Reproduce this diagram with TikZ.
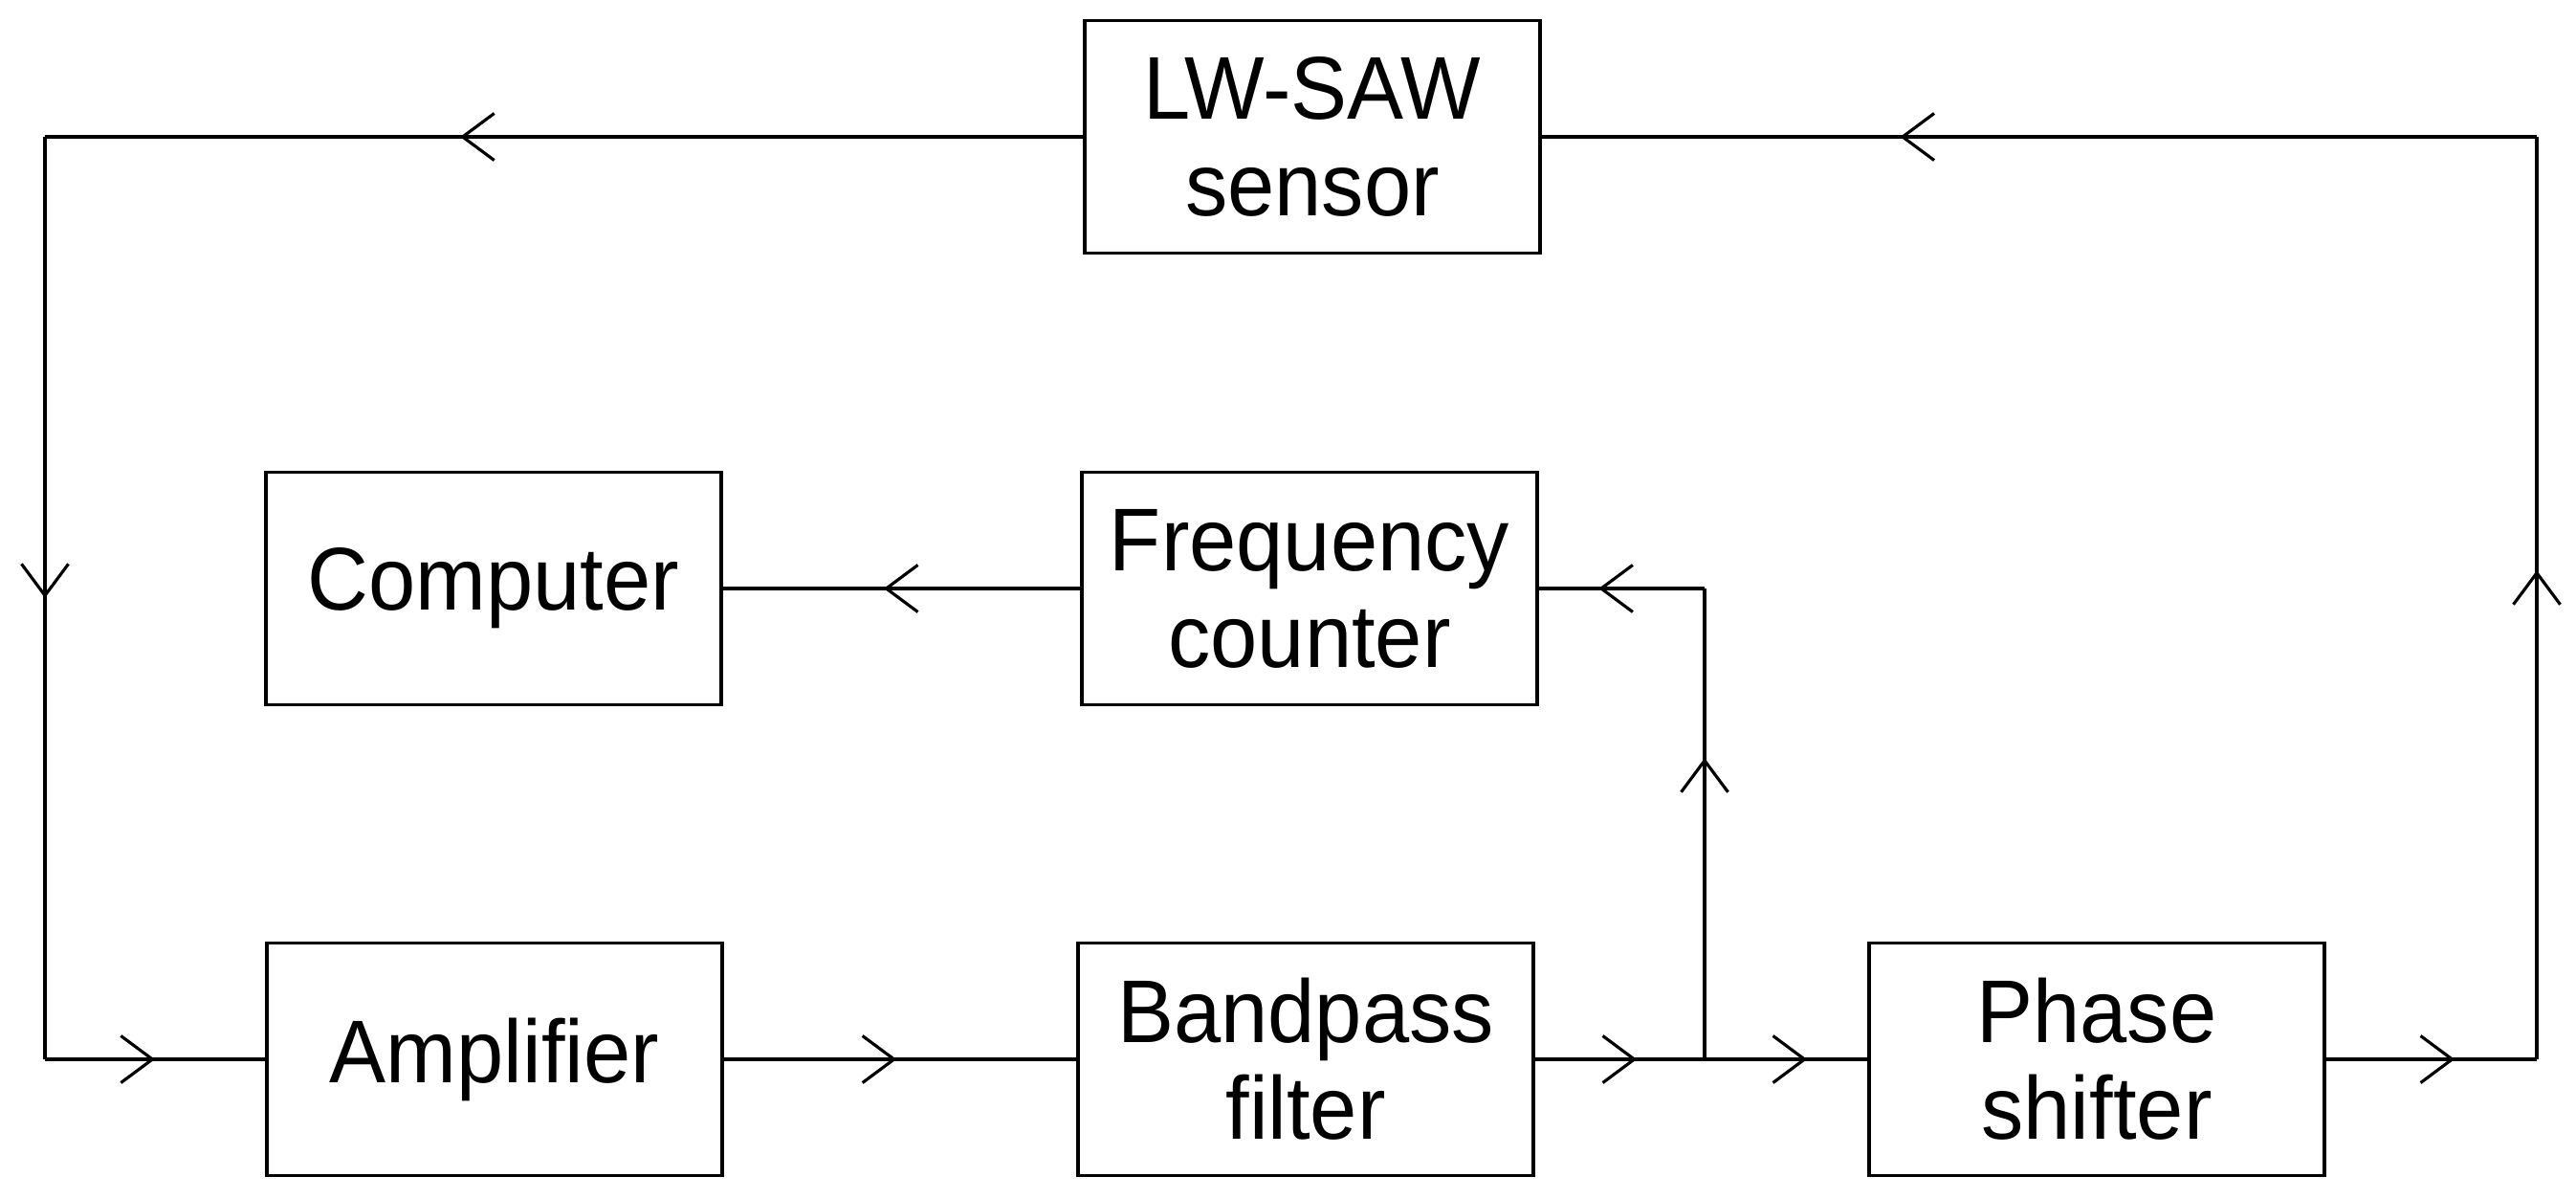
\documentclass[tikz,border=0pt]{standalone}
\usepackage{fontspec}
\setmainfont{Liberation Sans}[FakeStretch=0.95]
\usepackage{tikz}
\usetikzlibrary{positioning,arrows.meta,decorations.markings}

\tikzset{
  block/.style={draw, line width=1.1pt, minimum width=4.76cm, minimum height=2.43cm,
    inner sep=0pt, align=center, font=\fontsize{26.5}{28.7}\selectfont},
  flow/.style={line width=0.9pt, postaction={decorate},
    decoration={markings, mark=at position #1 with {\arrow[line width=0.9pt]{Straight Barb[length=3.3mm,width=4.9mm]}}}}
}

\begin{document}
\begin{tikzpicture}
  \useasboundingbox (0,0) rectangle (26.93,12.52);

  % blocks
  \node[block] (sensor) at (13.72,11.09) {LW-SAW\\sensor};
  \node[block] (computer) at (5.16,6.37) {Computer};
  \node[block] (counter) at (13.69,6.37) {Frequency\\counter};
  \node[block] (amp) at (5.17,1.45) {Amplifier};
  \node[block] (bandpass) at (13.65,1.45) {Bandpass\\filter};
  \node[block] (phase) at (21.92,1.45) {Phase\\shifter};

  % corners of the loop
  \coordinate (tl) at (0.47,11.09);
  \coordinate (bl) at (0.47,1.45);
  \coordinate (tr) at (26.52,11.09);
  \coordinate (br) at (26.52,1.45);
  \coordinate (split) at (17.82,1.45);
  \coordinate (bend) at (17.82,6.37);

  \draw[flow=0.6] (sensor.west) -- (tl);
  \draw[flow=0.5] (tl) -- (bl);
  \draw[flow=0.5] (bl) -- (amp.west);
  \draw[flow=0.49] (amp) -- (bandpass);
  \draw[flow=0.6] (bandpass) -- (split);
  \draw[flow=0.63] (split) -- (phase);
  \draw[flow=0.61] (phase) -- (br);
  \draw[flow=0.53] (br) -- (tr);
  \draw[flow=0.64] (tr) -- (sensor.east);

  % counter branch
  \draw[flow=0.64] (split) -- (bend);
  \draw[flow=0.64] (bend) -- (counter.east);
  \draw[flow=0.55] (counter) -- (computer);
\end{tikzpicture}
\end{document}
